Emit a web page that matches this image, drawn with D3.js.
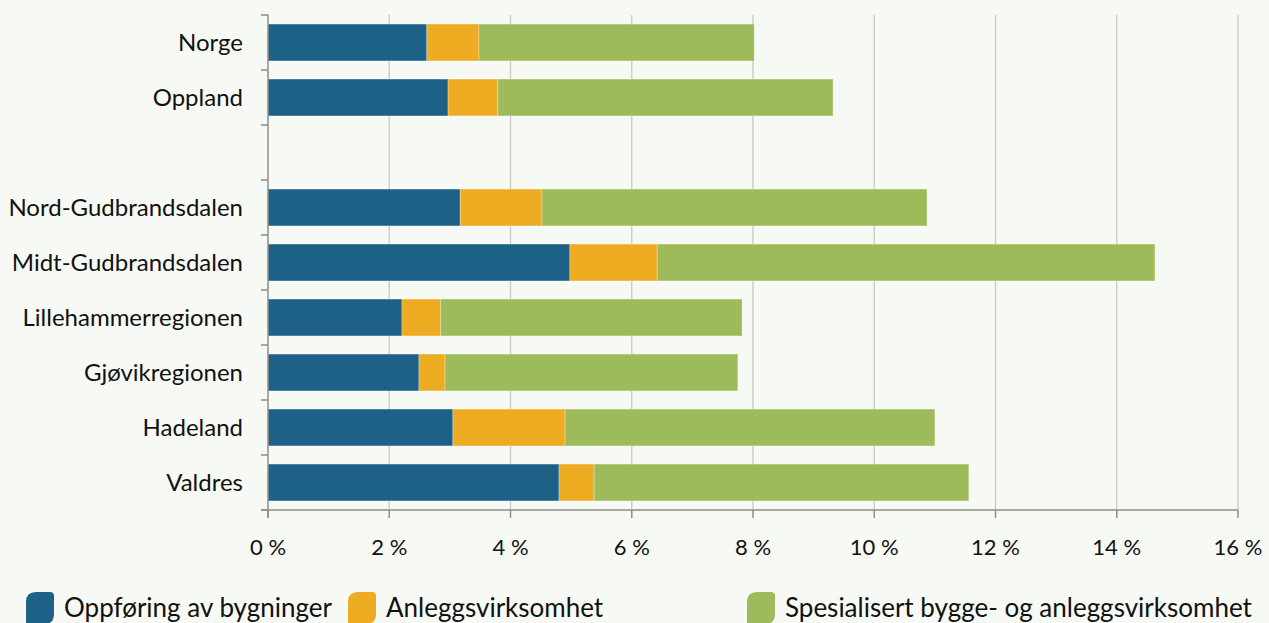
<!DOCTYPE html>
<html><head><meta charset="utf-8">
<script src="https://cdn.jsdelivr.net/npm/d3@7"></script>
<style>
html,body{margin:0;padding:0;background:#f7faf4;}
svg{display:block;font-family:Lato,"Open Sans",sans-serif;}
</style></head>
<body>
<svg id="chart" width="1269" height="623"></svg>
<script>
const categories = ["Norge","Oppland","","Nord-Gudbrandsdalen","Midt-Gudbrandsdalen","Lillehammerregionen","Gjøvikregionen","Hadeland","Valdres"];
const seriesNames = ["Oppføring av bygninger","Anleggsvirksomhet","Spesialisert bygge- og anleggsvirksomhet"];
const oppforing = [2.62,2.97,null,3.17,4.98,2.21,2.49,3.05,4.80];
const anlegg =    [0.86,0.82,null,1.35,1.44,0.64,0.43,1.85,0.58];
const spesial =   [4.54,5.53,null,6.35,8.21,4.97,4.83,6.10,6.18];
const xTicks = [0,2,4,6,8,10,12,14,16];
const colors = ["#1d6286","#eeac22","#9dbb5b"];

const svg = d3.select("#chart");
const pLeft = 268, pRight = 1238, pTop = 15, pBottom = 510;
const x = d3.scaleLinear().domain([0,16]).range([pLeft,pRight]);
const y = d3.scaleBand().domain(categories.map((c,i)=>i)).range([pTop,pBottom]).paddingInner(0.33).paddingOuter(0.165);

// gridlines
svg.append("g").selectAll("line").data(xTicks.slice(1)).join("line")
  .attr("x1",d=>x(d)).attr("x2",d=>x(d)).attr("y1",pTop).attr("y2",pBottom)
  .attr("stroke","#c8c8c8").attr("stroke-width",1.3);

const table = categories.map((c,i)=>({i, vals:[oppforing[i],anlegg[i],spesial[i]]}));
const stack = d3.stack().keys([0,1,2]).value((d,k)=>d.vals[k]||0)(table);

svg.append("g").selectAll("g").data(stack).join("g")
  .attr("fill",(d,k)=>colors[k])
  .selectAll("rect").data(d=>d.filter(p=>p.data.vals[0]!==null)).join("rect")
  .attr("x",d=>x(d[0])).attr("width",d=>x(d[1])-x(d[0]))
  .attr("y",d=>y(d.data.i)).attr("height",y.bandwidth())
  .attr("stroke","rgba(255,255,255,0.35)").attr("stroke-width",0.8);

// y axis
const ya = svg.append("g");
ya.append("line").attr("x1",pLeft).attr("x2",pLeft).attr("y1",pTop).attr("y2",pBottom+8).attr("stroke","#8c8c8c").attr("stroke-width",1.5);
const bounds = d3.range(categories.length+1).map(k=>pTop + k*(pBottom-pTop)/categories.length);
ya.selectAll("line.t").data(bounds).join("line").attr("class","t")
  .attr("x1",pLeft-7).attr("x2",pLeft).attr("y1",d=>d).attr("y2",d=>d)
  .attr("stroke","#8c8c8c").attr("stroke-width",1.5);
ya.selectAll("text").data(categories).join("text")
  .attr("x",243).attr("y",(d,i)=>y(i)+y.bandwidth()/2).attr("dy","0.35em")
  .attr("text-anchor","end").attr("font-size",24).attr("fill","#111").text(d=>d);

// x axis
const xa = svg.append("g");
xa.append("line").attr("x1",pLeft-7).attr("x2",pRight).attr("y1",pBottom).attr("y2",pBottom).attr("stroke","#8c8c8c").attr("stroke-width",1.5);
xa.selectAll("line.t").data(xTicks).join("line").attr("class","t")
  .attr("x1",d=>x(d)).attr("x2",d=>x(d)).attr("y1",pBottom).attr("y2",pBottom+8)
  .attr("stroke","#8c8c8c").attr("stroke-width",1.5);
xa.selectAll("text").data(xTicks).join("text")
  .attr("x",d=>x(d)).attr("y",555).attr("text-anchor","middle").attr("font-size",22).attr("fill","#111")
  .text(d=>d+" %");

// legend
const legX = [26,348,747];
const lg = svg.append("g").selectAll("g").data(seriesNames).join("g")
  .attr("transform",(d,k)=>`translate(${legX[k]},592)`);
lg.append("path").attr("d","M0,10 Q0,0 10,0 L24,0 Q28,0 28,4 L28,22 Q28,32 18,32 L0,32 Z").attr("fill",(d,k)=>colors[k]);
lg.append("text").attr("x",38).attr("y",25).attr("font-size",26).attr("fill","#111").text(d=>d);
</script>
</body></html>
